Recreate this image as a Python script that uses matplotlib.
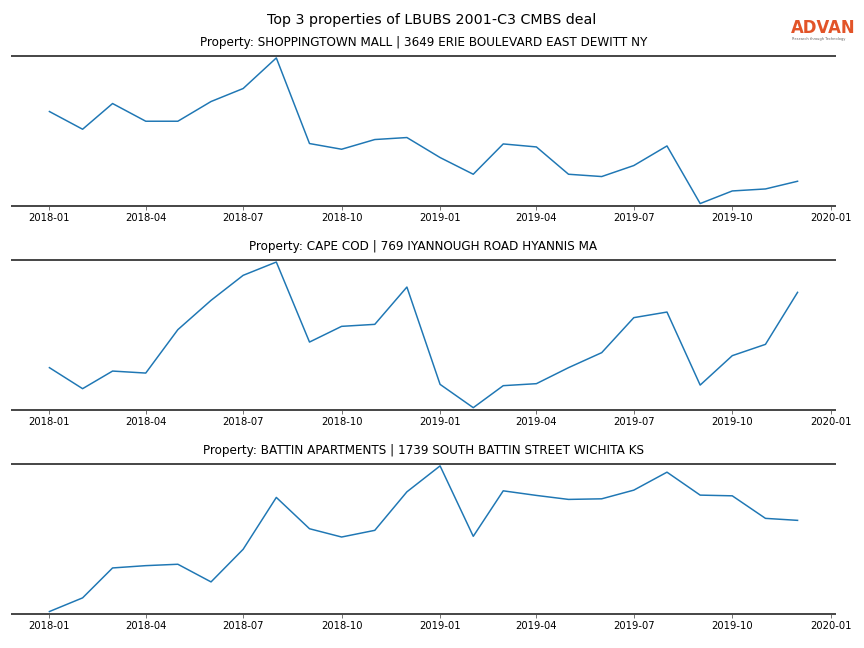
"""
Top 3 properties of the LBUBS 2001-C3 CMBS deal, monthly traffic lines.
"""
import matplotlib
matplotlib.use('Agg')
import matplotlib.pyplot as plt
import matplotlib.dates as mdates
import pandas as pd

OUTPUT = 'out.png'

months = pd.date_range('2018-01-01', '2019-12-01', freq='MS')

titles = [
    'Property: SHOPPINGTOWN MALL | 3649 ERIE BOULEVARD EAST DEWITT NY',
    'Property: CAPE COD | 769 IYANNOUGH ROAD HYANNIS MA',
    'Property: BATTIN APARTMENTS | 1739 SOUTH BATTIN STREET WICHITA KS',
]

shoppingtown = [93.4, 75.7, 101.4, 83.7, 83.7, 103.4, 116.4, 147.0, 61.4, 55.7, 65.4, 67.4,
                47.4, 30.7, 61.0, 58.0, 30.7, 28.4, 39.4, 59.0, 1.4, 14.0, 16.0, 23.7]
cape_cod = [42.0, 21.0, 38.6, 36.6, 80.0, 109.3, 134.3, 147.6, 67.6, 83.3, 85.3, 122.6,
            25.3, 2.0, 24.0, 26.0, 42.0, 57.0, 92.0, 97.6, 24.6, 54.0, 65.3, 117.3]
battin = [2.0, 15.7, 45.7, 48.0, 49.4, 31.7, 64.4, 116.4, 85.0, 76.7, 83.4, 122.0,
          148.0, 77.4, 123.0, 118.4, 114.4, 115.0, 123.7, 141.7, 118.7, 118.0, 95.4, 93.4]


def style_axis(ax):
    for side in ['left', 'right']:
        ax.spines[side].set_visible(False)
    for side in ['top', 'bottom']:
        ax.spines[side].set_color('#4a4a4a')
        ax.spines[side].set_linewidth(2)
    ax.set_yticks([])
    ax.xaxis.set_major_locator(mdates.MonthLocator(bymonth=[1, 4, 7, 10]))
    ax.xaxis.set_major_formatter(mdates.DateFormatter('%Y-%m'))
    ax.tick_params(axis='x', labelsize=10, length=4, width=0.8, color='#555555')
    ax.margins(y=0.015)


def plot_properties(output_filename):
    fig = plt.figure(figsize=(12, 9), dpi=72)
    tops = [0.914, 0.599, 0.2844]
    height = 0.2315
    series = [shoppingtown, cape_cod, battin]
    for top, title, values in zip(tops, titles, series):
        ax = fig.add_axes([0.0139, top - height, 0.9525, height])
        ax.plot(months, values, color='#1f77b4', lw=1.5)
        ax.set_title(title, fontsize=12, pad=10)
        style_axis(ax)

    fig.suptitle('Top 3 properties of LBUBS 2001-C3 CMBS deal', fontsize=14.2, y=0.98)
    fig.text(0.9155, 0.949, 'ADVAN', color='#e25428', fontsize=16.5,
             fontweight='semibold', ha='left', va='baseline')
    fig.text(0.9165, 0.938, 'Research through Technology', color='#666666',
             fontsize=3.6, ha='left', va='baseline')
    fig.savefig(output_filename, dpi=72)


if __name__ == "__main__":
    plot_properties(OUTPUT)
